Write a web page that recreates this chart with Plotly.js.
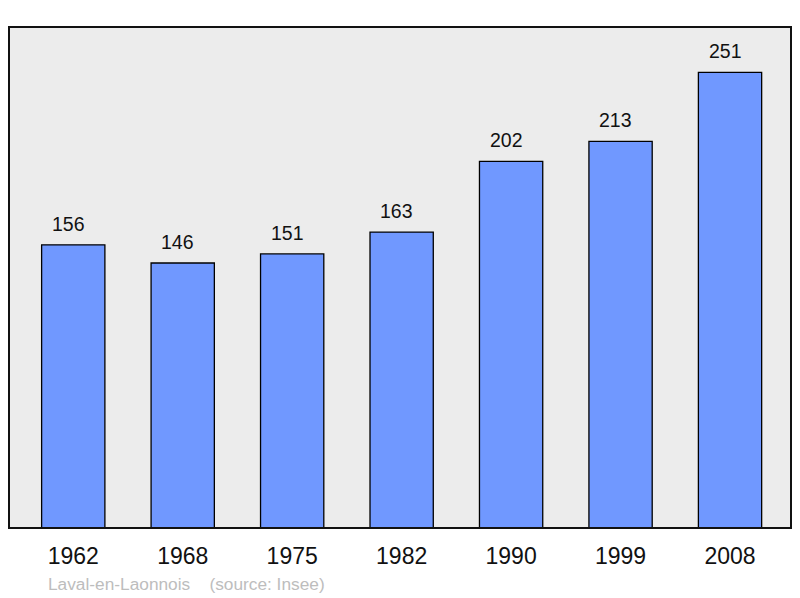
<!DOCTYPE html>
<html><head><meta charset="utf-8">
<script src="https://cdn.plot.ly/plotly-3.0.1.min.js"></script>
<style>html,body{margin:0;padding:0;background:#fff}#chart{width:800px;height:598px}</style>
</head><body><div id="chart"></div>
<script>
const years = ['1962','1968','1975','1982','1990','1999','2008'];
const population = [156,146,151,163,202,213,251];
const footer = 'Laval-en-Laonnois\u00a0\u00a0\u00a0\u00a0(source: Insee)';

const trace = {
  type: 'bar', x: years, y: population, width: 0.578,
  marker: {color: '#7098ff', line: {color: '#000', width: 1.3}},
  hoverinfo: 'none'
};
const annotations = years.map((yr, i) => ({
  x: i, y: population[i], xref: 'x', yref: 'y', text: String(population[i]),
  showarrow: false, yanchor: 'bottom', yshift: 8, xshift: -5,
  font: {family: 'Liberation Sans, Arial, sans-serif', size: 19.5, color: '#111'}
}));
annotations.push({
  xref: 'paper', yref: 'paper', x: 0.047, y: -0.112, xanchor: 'left', yanchor: 'middle',
  text: footer, showarrow: false,
  font: {family: 'Liberation Sans, Arial, sans-serif', size: 17.3, color: '#bdbdbd'}
});
const layout = {
  width: 800, height: 598,
  margin: {l: 9, r: 9, t: 27, b: 70, pad: 0},
  paper_bgcolor: '#fff', plot_bgcolor: '#ececec',
  showlegend: false,
  xaxis: {type: 'category', range: [-0.587, 6.557], showgrid: false, zeroline: false,
    showline: false, ticks: '', ticklabelstandoff: 12,
    tickfont: {family: 'Liberation Sans, Arial, sans-serif', size: 23, color: '#111'}},
  yaxis: {range: [0, 276], showgrid: false, zeroline: false, showticklabels: false, showline: false},
  shapes: [{type: 'rect', xref: 'paper', yref: 'paper', x0: 0, x1: 1, y0: 0, y1: 1,
    line: {color: '#111', width: 2}, layer: 'above'}],
  annotations: annotations
};
Plotly.newPlot('chart', [trace], layout, {staticPlot: true});
</script></body></html>
